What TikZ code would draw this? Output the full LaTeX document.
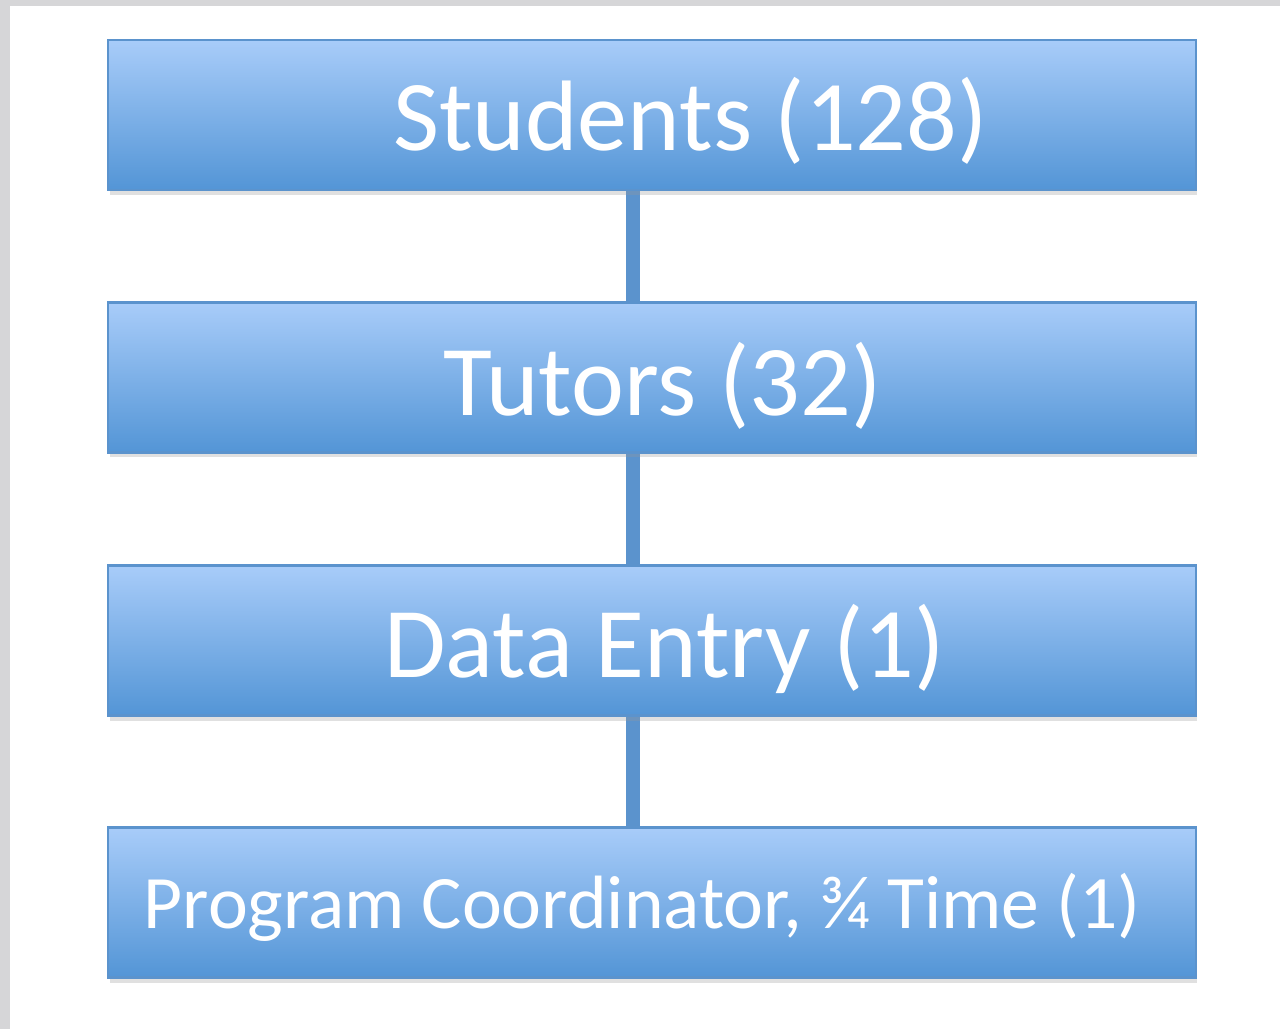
\documentclass[tikz,border=0pt]{standalone}
\usepackage{fontspec}
\setmainfont{Carlito}
\usetikzlibrary{shadows}

\definecolor{boxtop}{HTML}{A8CCF9}
\definecolor{boxbottom}{HTML}{5395D6}
\definecolor{boxline}{HTML}{5B93CD}
\definecolor{pagegray}{HTML}{D6D6D8}

\tikzset{
    level/.style={draw=boxline, line width=1.2pt, top color=boxtop, bottom color=boxbottom,
        minimum width=21.76cm, minimum height=3cm, inner sep=0pt, text=white,
        drop shadow={shadow xshift=0.03cm, shadow yshift=-0.1cm, fill=black!40, opacity=0.3}},
    link/.style={draw=boxline, line width=8pt}
}
% lower the text without changing its centring
\newcommand{\lowered}[2]{\raisebox{-#1}[\height][\depth]{#2}}

\begin{document}
\begin{tikzpicture}[x=0.02cm, y=-0.02cm]
    \fill[pagegray] (0,0) rectangle (1280,1029);
    \fill[white] (10,6) rectangle (1280,1029);
    \useasboundingbox (0,0) rectangle (1280,1029);

    \draw[link] (633,190) -- (633,302)
    (633,453) -- (633,565)
    (633,716) -- (633,827);

    \node[level, font=\fontsize{57}{60}\selectfont] (students) at (652,115) {\hspace{44pt}\lowered{3.5pt}{Students (128)}};
    \node[level, font=\fontsize{57}{60}\selectfont] (tutors) at (652,377.5) {\hspace{12pt}\lowered{5pt}{Tutors (32)}};
    \node[level, font=\fontsize{57}{60}\selectfont] (entry) at (652,640.5) {\hspace{14pt}\lowered{5pt}{Data Entry (1)}};
    \node[level, font=\fontsize{43}{46}\selectfont] (coord) at (652,902.5) {\hspace{-11pt}\lowered{2.5pt}{Program Coordinator, ¾ Time (1)}};

\end{tikzpicture}
\end{document}
